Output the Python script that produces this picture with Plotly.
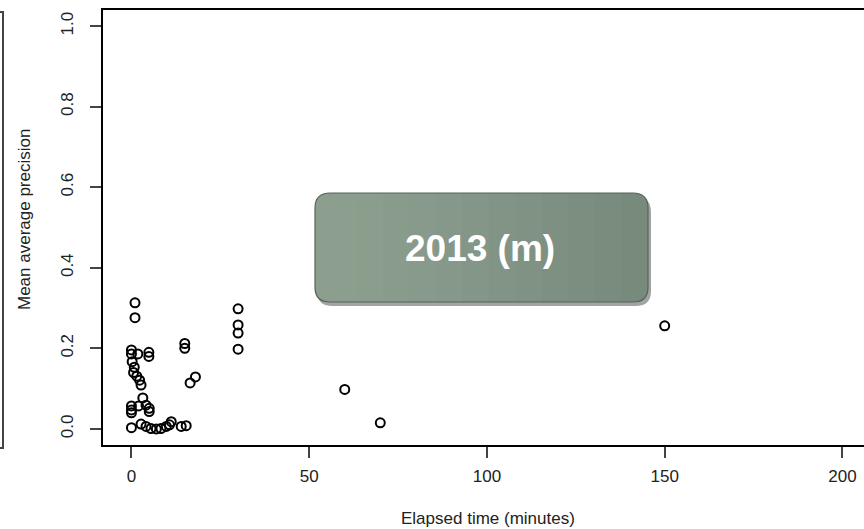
import plotly.graph_objects as go

# ---- data ----
elapsed_minutes = [
    150, 70, 60,
    30, 30, 30, 30,
    15, 15, 16.5, 18,
    1, 1,
    0, 0, 1.8, 4.9, 4.9, 0.2, 0.8, 0.6, 1.5, 2.3, 2.7, 3.2,
    0, 0, 0, 2, 4.1, 5, 5,
    0, 2.7, 4.1, 5.5, 7, 8.3, 9.8, 10.7, 11.2, 14, 15.4,
]
mean_avg_precision = [
    0.256, 0.015, 0.098,
    0.298, 0.258, 0.238, 0.198,
    0.212, 0.200, 0.114, 0.129,
    0.313, 0.276,
    0.196, 0.186, 0.186, 0.190, 0.180, 0.167, 0.153, 0.140, 0.131, 0.121, 0.109, 0.077,
    0.057, 0.047, 0.040, 0.057, 0.059, 0.051, 0.043,
    0.003, 0.012, 0.006, 0.001, 0.000, 0.001, 0.006, 0.010, 0.018, 0.006, 0.008,
]
x_ticks = [0, 50, 100, 150, 200]
y_ticks = [0.0, 0.2, 0.4, 0.6, 0.8, 1.0]
y_tick_labels = ["0.0", "0.2", "0.4", "0.6", "0.8", "1.0"]
x_title = "Elapsed time (minutes)"
y_title = "Mean average precision"
badge_text = "2013 (m)"

# ---- layout geometry ----
W, H = 864, 529
ML, MR, MT, MB = 103, 0, 10, 84
PW, PH = W - ML - MR, H - MT - MB
PX_PER_MIN = 3.555
x_range = [-8, -8 + PW / PX_PER_MIN]
y_range = [-0.04, 1.04]
FONT = "Liberation Sans, Arial, Helvetica, sans-serif"


def px2paper(px, py):
    return (px - ML) / PW, (MT + PH - py) / PH


def P(px, py):
    a, b = px2paper(px, py)
    return f"{a:.5f},{b:.5f}"


def rounded_rect_path(x0, y0, x1, y1, r, rr=None):
    rr = r if rr is None else rr
    s = f"M {P(x0 + r, y0)} L {P(x1 - rr, y0)} "
    if rr > 0:
        s += f"Q {P(x1, y0)} {P(x1, y0 + rr)} "
    s += f"L {P(x1, y1 - rr)} "
    if rr > 0:
        s += f"Q {P(x1, y1)} {P(x1 - rr, y1)} "
    s += f"L {P(x0 + r, y1)} Q {P(x0, y1)} {P(x0, y1 - r)} "
    s += f"L {P(x0, y0 + r)} Q {P(x0, y0)} {P(x0 + r, y0)} Z"
    return s


fig = go.Figure()
fig.add_trace(go.Scatter(
    x=elapsed_minutes, y=mean_avg_precision, mode="markers",
    marker=dict(symbol="circle-open", size=9, color="black",
                line=dict(width=2, color="black")),
    hoverinfo="x+y", showlegend=False,
))

shapes = []
# badge: shadow, body, left-to-right light gradient, border
bx0, by0, bx1, by1, br = 315, 193, 648, 302, 15
shapes.append(dict(type="path", xref="paper", yref="paper",
                   path=rounded_rect_path(bx0 + 2, by0 + 4, bx1 + 3, by1 + 4, br),
                   fillcolor="rgba(50,50,50,0.45)", line=dict(width=0), layer="above"))
shapes.append(dict(type="path", xref="paper", yref="paper",
                   path=rounded_rect_path(bx0, by0, bx1, by1, br),
                   fillcolor="#74877a", line=dict(width=0), layer="above"))
n_layers = 12
for i in range(n_layers):
    xr = bx0 + br + (bx1 - bx0 - br) * (1 - i / n_layers)
    shapes.append(dict(type="path", xref="paper", yref="paper",
                       path=rounded_rect_path(bx0, by0, xr, by1, br, rr=0 if i > 0 else br),
                       fillcolor="rgba(178,202,185,0.05)", line=dict(width=0), layer="above"))
shapes.append(dict(type="path", xref="paper", yref="paper",
                   path=rounded_rect_path(bx0, by0, bx1, by1, br),
                   fillcolor="rgba(0,0,0,0)", line=dict(width=1.2, color="#55645a"), layer="above"))

# right edge of neighbouring (cropped) panel on the far left
a0, b0 = px2paper(0, 12)
a1, b1 = px2paper(3, 448)
shapes.append(dict(type="path", xref="paper", yref="paper",
                   path=f"M {a0},{b0} L {a1},{b0} L {a1},{b1} L {a0},{b1}",
                   line=dict(width=2, color="#444"), layer="above"))

tx, ty = px2paper(480, 248)
xtx, xty = px2paper(488, 518)
ytx, yty = px2paper(25, 220)
annotations = [
    dict(text=f"<b>{badge_text}</b>", x=tx, y=ty, xref="paper", yref="paper",
         showarrow=False, font=dict(family=FONT, size=37, color="white"),
         xanchor="center", yanchor="middle"),
    dict(text=x_title, x=xtx, y=xty, xref="paper", yref="paper", showarrow=False,
         font=dict(family=FONT, size=17, color="#222"), xanchor="center", yanchor="middle"),
    dict(text=y_title, x=ytx, y=yty, xref="paper", yref="paper", showarrow=False,
         textangle=-90, font=dict(family=FONT, size=17, color="#222"),
         xanchor="center", yanchor="middle"),
]

fig.update_layout(
    width=W, height=H,
    margin=dict(l=ML, r=MR, t=MT, b=MB, pad=0),
    paper_bgcolor="white", plot_bgcolor="white",
    font=dict(family=FONT, size=16, color="#222"),
    shapes=shapes, annotations=annotations,
    xaxis=dict(range=x_range, tickmode="array", tickvals=x_ticks,
               showgrid=False, zeroline=False, showline=True, mirror=True,
               linecolor="black", linewidth=1.5,
               ticks="outside", ticklen=11, tickwidth=1.5, tickcolor="#444",
               ticklabelstandoff=4, tickfont=dict(size=17, color="#222")),
    yaxis=dict(range=y_range, tickmode="array", tickvals=y_ticks, ticktext=y_tick_labels,
               showgrid=False, zeroline=False, showline=True, mirror=False,
               linecolor="black", linewidth=1.5,
               ticks="outside", ticklen=11, tickwidth=1.5, tickcolor="#444",
               tickangle=-90, ticklabelstandoff=10, tickfont=dict(size=17, color="#222")),
)

fig.write_html(
    "out.html",
    config={"displayModeBar": False},
    post_script="document.body.style.margin='0';document.body.style.overflow='hidden';",
)
